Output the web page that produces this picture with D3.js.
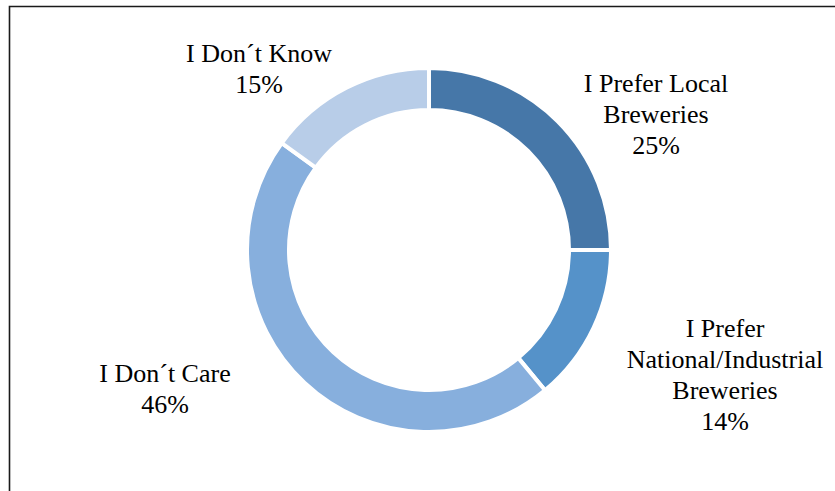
<!DOCTYPE html>
<html>
<head>
<meta charset="utf-8">
<script src="https://cdn.jsdelivr.net/npm/d3@7"></script>
<style>
  html, body { margin: 0; padding: 0; background: #fff; }
  svg { display: block; }
  text { font-family: "Liberation Serif", "Times New Roman", serif; fill: #000; }
</style>
</head>
<body>
<svg id="chart" width="835" height="491"></svg>
<script>
// Survey answers: brewery preference
const categories = [
  ["I Prefer Local", "Breweries"],
  ["I Prefer", "National/Industrial", "Breweries"],
  ["I Don\u00B4t Care"],
  ["I Don\u00B4t Know"]
];
const shares = [25, 14, 46, 15];
const colors = ["#4677a8", "#5592c9", "#87afdd", "#b8cde8"];

// Label block centres, relative to the ring centre (first-line baseline offset)
const labelOffsets = [[227, -158], [296, 87], [-264, 132], [-170, -188]];

const width = 835, height = 491;
const cx = 429, cy = 250;
const outerR = 182, innerR = 140;
const lineH = 31;

const svg = d3.select("#chart");

// Chart area frame
svg.append("path")
  .attr("d", "M9.5,491 L9.5,6.5 L835,6.5")
  .attr("fill", "none")
  .attr("stroke", "#1a1a1a")
  .attr("stroke-width", 1.6);

const data = shares.map((v, i) => ({ value: v, lines: categories[i], color: colors[i], off: labelOffsets[i] }));

const pie = d3.pie().value(d => d.value).sort(null).startAngle(0).endAngle(2 * Math.PI);
const arc = d3.arc().innerRadius(innerR).outerRadius(outerR);

const g = svg.append("g").attr("transform", `translate(${cx},${cy})`);

g.selectAll("path.slice")
  .data(pie(data))
  .join("path")
  .attr("class", "slice")
  .attr("d", arc)
  .attr("fill", d => d.data.color)
  .attr("stroke", "#fff")
  .attr("stroke-width", 4)
  .attr("stroke-linejoin", "miter");

const labels = g.selectAll("text.lbl")
  .data(pie(data))
  .join("text")
  .attr("class", "lbl")
  .attr("text-anchor", "middle")
  .attr("font-size", 26)
  .attr("transform", d => `translate(${d.data.off[0]},${d.data.off[1]})`);

labels.each(function(d) {
  const t = d3.select(this);
  const lines = d.data.lines.concat([d3.format("d")(d.data.value) + "%"]);
  lines.forEach((s, i) => {
    t.append("tspan").attr("x", 0).attr("y", i * lineH).text(s);
  });
});
</script>
</body>
</html>
